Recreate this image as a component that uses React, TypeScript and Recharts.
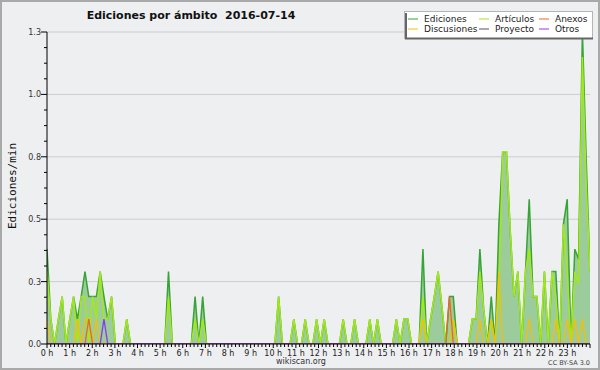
import React from 'react';
import { ComposedChart, Area, Line, XAxis, YAxis, CartesianGrid } from 'recharts';

// 144 ten-minute slots, 2016-07-14 (values: edits per minute)
const ediciones = [
  0.38, 0.1, 0, 0.1, 0.19, 0, 0.1, 0.19, 0.1, 0.19, 0.29, 0.19,
  0.19, 0.19, 0.29, 0.19, 0.1, 0.19, 0, 0, 0, 0.1, 0, 0,
  0, 0, 0, 0, 0, 0, 0, 0, 0.29, 0, 0, 0,
  0, 0, 0, 0.19, 0, 0.19, 0, 0, 0, 0, 0, 0,
  0, 0, 0, 0, 0, 0, 0, 0, 0, 0, 0, 0,
  0, 0.19, 0, 0, 0, 0.1, 0, 0, 0.1, 0, 0, 0.1,
  0, 0.1, 0, 0, 0, 0, 0.1, 0, 0, 0.1, 0, 0,
  0, 0.1, 0, 0.1, 0, 0, 0, 0, 0.1, 0, 0.1, 0.1,
  0, 0, 0, 0.38, 0, 0.1, 0.19, 0.29, 0.15, 0, 0.19, 0.19,
  0, 0, 0, 0, 0.1, 0.1, 0.38, 0.14, 0, 0.19, 0, 0.48,
  0.77, 0.77, 0.45, 0.19, 0.29, 0, 0.29, 0.58, 0.19, 0.19, 0, 0.29,
  0, 0.29, 0.29, 0, 0.48, 0.58, 0, 0.38, 0.34, 1.25, 0.74, 0.29,
];

const articulos = [
  0.29, 0.1, 0, 0.1, 0.19, 0, 0.1, 0.19, 0, 0.19, 0.19, 0,
  0.19, 0.1, 0.29, 0.1, 0.1, 0.19, 0, 0, 0, 0.1, 0, 0,
  0, 0, 0, 0, 0, 0, 0, 0, 0.19, 0, 0, 0,
  0, 0, 0, 0.1, 0, 0.1, 0, 0, 0, 0, 0, 0,
  0, 0, 0, 0, 0, 0, 0, 0, 0, 0, 0, 0,
  0, 0.19, 0, 0, 0, 0.1, 0, 0, 0.1, 0, 0, 0.1,
  0, 0.1, 0, 0, 0, 0, 0.1, 0, 0, 0.1, 0, 0,
  0, 0.1, 0, 0.1, 0, 0, 0, 0, 0.1, 0, 0.1, 0.1,
  0, 0, 0, 0.19, 0, 0.1, 0.19, 0.29, 0.15, 0, 0, 0.1,
  0, 0, 0, 0, 0.1, 0.1, 0.29, 0.14, 0, 0.1, 0, 0.19,
  0.77, 0.77, 0.45, 0.19, 0.29, 0, 0.29, 0.38, 0.19, 0.19, 0, 0.29,
  0, 0.29, 0.19, 0, 0.48, 0.29, 0, 0.29, 0.24, 1.15, 0.64, 0.29,
];

const discusiones = [
  0.1, 0, 0, 0, 0, 0, 0, 0, 0.1, 0, 0.1, 0.1,
  0, 0.1, 0, 0, 0, 0, 0, 0, 0, 0, 0, 0,
  0, 0, 0, 0, 0, 0, 0, 0, 0, 0, 0, 0,
  0, 0, 0, 0, 0, 0, 0, 0, 0, 0, 0, 0,
  0, 0, 0, 0, 0, 0, 0, 0, 0, 0, 0, 0,
  0, 0, 0, 0, 0, 0, 0, 0, 0, 0, 0, 0,
  0, 0, 0, 0, 0, 0, 0, 0, 0, 0, 0, 0,
  0, 0, 0, 0, 0, 0, 0, 0, 0, 0, 0, 0,
  0, 0, 0, 0.1, 0, 0, 0, 0, 0, 0, 0, 0.1,
  0, 0, 0, 0, 0, 0, 0.1, 0, 0, 0.1, 0, 0.29,
  0, 0, 0, 0, 0, 0, 0, 0.1, 0, 0, 0, 0,
  0, 0, 0.1, 0, 0, 0.1, 0, 0.1, 0, 0.1, 0, 0,
];

const anexos = [
  0, 0, 0, 0, 0, 0, 0, 0, 0, 0, 0, 0.1,
  0, 0, 0, 0, 0, 0, 0, 0, 0, 0, 0, 0,
  0, 0, 0, 0, 0, 0, 0, 0, 0, 0, 0, 0,
  0, 0, 0, 0, 0, 0, 0, 0, 0, 0, 0, 0,
  0, 0, 0, 0, 0, 0, 0, 0, 0, 0, 0, 0,
  0, 0, 0, 0, 0, 0, 0, 0, 0, 0, 0, 0,
  0, 0, 0, 0, 0, 0, 0, 0, 0, 0, 0, 0,
  0, 0, 0, 0, 0, 0, 0, 0, 0, 0, 0, 0,
  0, 0, 0, 0, 0, 0, 0, 0, 0, 0, 0.19, 0,
  0, 0, 0, 0, 0, 0, 0, 0, 0, 0, 0, 0,
  0, 0, 0, 0, 0, 0, 0, 0, 0, 0, 0, 0,
  0, 0, 0, 0, 0, 0, 0, 0, 0, 0, 0, 0,
];

const proyecto = new Array(144).fill(0);

const otros = [
  0, 0, 0, 0, 0, 0, 0, 0, 0, 0, 0, 0,
  0, 0, 0, 0.1, 0, 0, 0, 0, 0, 0, 0, 0,
  0, 0, 0, 0, 0, 0, 0, 0, 0, 0, 0, 0,
  0, 0, 0, 0, 0, 0, 0, 0, 0, 0, 0, 0,
  0, 0, 0, 0, 0, 0, 0, 0, 0, 0, 0, 0,
  0, 0, 0, 0, 0, 0, 0, 0, 0, 0, 0, 0,
  0, 0, 0, 0, 0, 0, 0, 0, 0, 0, 0, 0,
  0, 0, 0, 0, 0, 0, 0, 0, 0, 0, 0, 0,
  0, 0, 0, 0, 0, 0, 0, 0, 0, 0, 0, 0,
  0, 0, 0, 0, 0, 0, 0, 0, 0, 0, 0, 0,
  0, 0, 0, 0, 0, 0, 0, 0, 0, 0, 0, 0,
  0, 0, 0, 0, 0, 0, 0, 0, 0, 0, 0, 0,
];

const hourLabels = [
  '0 h', '1 h', '2 h', '3 h', '4 h', '5 h', '6 h', '7 h', '8 h', '9 h', '10 h', '11 h',
  '12 h', '13 h', '14 h', '15 h', '16 h', '17 h', '18 h', '19 h', '20 h', '21 h', '22 h', '23 h',
];

const yMajorTicks = [0, 0.25, 0.5, 0.75, 1, 1.25];

const TITLE = 'Ediciones por ámbito  2016-07-14';
const Y_LABEL = 'Ediciones/min';

const series = [
  { key: 'ediciones', name: 'Ediciones', color: '#36a436' },
  { key: 'articulos', name: 'Artículos', color: '#a4e81a' },
  { key: 'anexos', name: 'Anexos', color: '#ee6624' },
  { key: 'discusiones', name: 'Discusiones', color: '#f2c00a' },
  { key: 'proyecto', name: 'Proyecto', color: '#555555' },
  { key: 'otros', name: 'Otros', color: '#8a38f0' },
];

const N = ediciones.length;
const data = ediciones.map((v, i) => ({
  i,
  ediciones: v,
  articulos: articulos[i],
  discusiones: discusiones[i],
  anexos: anexos[i],
  proyecto: proyecto[i],
  otros: otros[i],
}));

// 10-minute tick marks across the day (145 marks incl. the end)
const xTicks = Array.from({ length: N + 1 }, (_, k) => (k * (N - 1)) / N);
const yTicks = Array.from({ length: 21 }, (_, k) => k * 0.0625);

const FONT = 'DejaVu Sans';

const XTick = (props: any) => {
  const { x, y, payload } = props;
  const k = Math.round((payload.value * N) / (N - 1));
  const isHour = k % 6 === 0;
  return (
    <g>
      <line x1={x} x2={x} y1={y} y2={y + (isHour ? 4 : 3)} stroke="#000" strokeWidth={1} />
      {isHour && k / 6 < hourLabels.length && (
        <text x={x} y={y + 12} textAnchor="middle" fontSize={8} fontFamily={FONT} fill="#222">
          {hourLabels[k / 6]}
        </text>
      )}
    </g>
  );
};

const YTick = (props: any) => {
  const { x, y, payload } = props;
  const v = payload.value;
  const major = yMajorTicks.some((t) => Math.abs(t - v) < 1e-6);
  return (
    <g>
      <line x1={x - (major ? 6 : 3)} x2={x} y1={y} y2={y} stroke="#000" strokeWidth={1} />
      {major && (
        <text x={x - 6} y={y + 3} textAnchor="end" fontSize={8} fontFamily={FONT} fill="#333">
          {v.toFixed(1)}
        </text>
      )}
    </g>
  );
};

const legendCols = [408, 479, 539];
const legendRows = [19, 29];

export default function App() {
  return (
    <div
      style={{
        position: 'absolute',
        left: 0,
        top: 0,
        width: 600,
        height: 370,
        background: '#eeeff1',
      }}
    >
      <ComposedChart
        width={600}
        height={370}
        data={data}
        margin={{ top: 32, right: 10, left: 0, bottom: 0 }}
      >
        <CartesianGrid
          vertical={false}
          horizontalValues={[0.25, 0.5, 0.75, 1, 1.25]}
          stroke="#cdcdcd"
          strokeWidth={1}
        />
        <Area
          type="linear"
          dataKey="ediciones"
          stroke={series[0].color}
          strokeWidth={1.5}
          fill="#9ccb9c"
          fillOpacity={1}
          dot={false}
          activeDot={false}
          isAnimationActive={false}
        />
        <Line type="linear" dataKey="articulos" stroke={series[1].color} strokeWidth={1.5} dot={false} activeDot={false} isAnimationActive={false} />
        <Line type="linear" dataKey="proyecto" stroke={series[4].color} strokeWidth={1} dot={false} activeDot={false} isAnimationActive={false} />
        <Line type="linear" dataKey="discusiones" stroke={series[3].color} strokeWidth={1.3} dot={false} activeDot={false} isAnimationActive={false} />
        <Line type="linear" dataKey="anexos" stroke={series[2].color} strokeWidth={1.3} dot={false} activeDot={false} isAnimationActive={false} />
        <Line type="linear" dataKey="otros" stroke={series[5].color} strokeWidth={1.3} dot={false} activeDot={false} isAnimationActive={false} />
        <XAxis
          type="number"
          dataKey="i"
          domain={[0, N - 1]}
          ticks={xTicks}
          interval={0}
          tickSize={0}
          tickMargin={0}
          tickLine={false}
          height={26}
          stroke="#000"
          tick={<XTick />}
          allowDataOverflow
        />
        <YAxis
          type="number"
          domain={[0, 1.25]}
          ticks={yTicks}
          interval={0}
          tickSize={0}
          tickMargin={0}
          tickLine={false}
          width={47}
          stroke="#000"
          tick={<YTick />}
          allowDataOverflow
        />
      </ComposedChart>
      <svg
        width={600}
        height={370}
        style={{ position: 'absolute', left: 0, top: 0, pointerEvents: 'none' }}
      >
        <rect x={1} y={1} width={598} height={368} fill="none" stroke="#a9a9a9" strokeWidth={2} />
        <text
          x={191}
          y={19}
          textAnchor="middle"
          fontSize={11}
          fontWeight="bold"
          fontFamily={FONT}
          fill="#111"
          style={{ whiteSpace: 'pre' }}
        >
          {TITLE}
        </text>
        <text
          x={16}
          y={186}
          textAnchor="middle"
          fontSize={11}
          fontFamily="DejaVu Sans Mono"
          fill="#111"
          transform="rotate(-90 16 186)"
        >
          {Y_LABEL}
        </text>
        <text x={301} y={364} textAnchor="middle" fontSize={8} fontFamily={FONT} fill="#333">
          wikiscan.org
        </text>
        <text x={590} y={365} textAnchor="end" fontSize={6.5} fontFamily={FONT} fill="#444">
          CC BY-SA 3.0
        </text>
        <g>
          <rect x={404.5} y={11.5} width={188} height={27} fill="#ffffff" stroke="#b4b4b4" strokeWidth={1} />
          <line x1={406} x2={406} y1={13} y2={39} stroke="#666" strokeWidth={2} />
          <line x1={405} x2={593} y1={38.5} y2={38.5} stroke="#666" strokeWidth={2} />
          {series.map((s, idx) => {
            const cx = legendCols[idx % 3];
            const cy = legendRows[Math.floor(idx / 3)];
            return (
              <g key={s.key}>
                <line x1={cx} x2={cx + 10} y1={cy} y2={cy} stroke={s.color} strokeWidth={1} />
                <text x={cx + 16} y={cy + 3} fontSize={9} fontFamily={FONT} fill="#222">
                  {s.name}
                </text>
              </g>
            );
          })}
        </g>
      </svg>
    </div>
  );
}
